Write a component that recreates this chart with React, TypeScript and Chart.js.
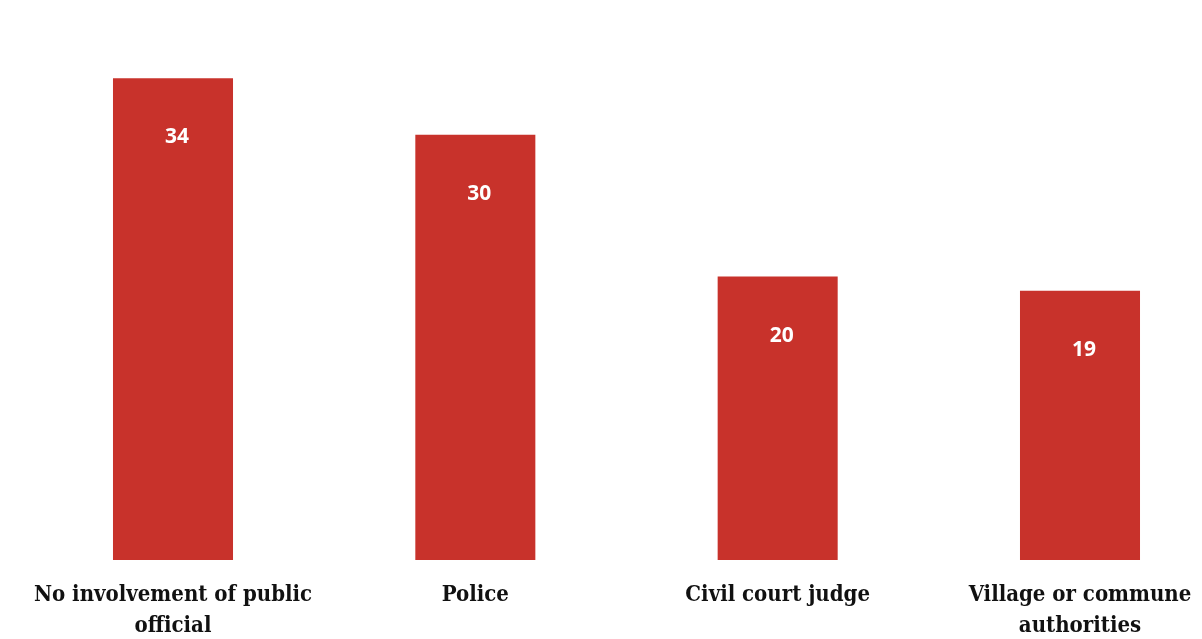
import React, { useEffect, useRef } from "react";
import { Chart, registerables } from "chart.js";

Chart.register(...registerables);

const categories: string[][] = [
  ["No involvement of public", "official"],
  ["Police"],
  ["Civil court judge"],
  ["Village or commune", "authorities"],
];
const values: number[] = [34, 30, 20, 19];
const yMin = 0;
const yMax = 35;

const BAR_COLOR = "#c8322b";

const valueLabelPlugin = {
  id: "valueLabels",
  afterDatasetsDraw(chart: any) {
    const ctx = chart.ctx;
    const meta = chart.getDatasetMeta(0);
    ctx.save();
    ctx.fillStyle = "#ffffff";
    ctx.font = "bold 21px 'Noto Sans'";
    ctx.textAlign = "center";
    ctx.textBaseline = "middle";
    meta.data.forEach((el: any, i: number) => {
      ctx.fillText(String(values[i]), el.x + 4, el.y + 59);
    });
    ctx.restore();
  },
};

export default function App() {
  const ref = useRef<HTMLCanvasElement | null>(null);
  useEffect(() => {
    document.body.style.margin = "0";
    document.body.style.background = "#ffffff";
    const canvas = ref.current!;
    const chart = new Chart(canvas, {
      type: "bar",
      data: {
        labels: categories,
        datasets: [
          {
            data: values,
            backgroundColor: BAR_COLOR,
            borderWidth: 0,
            barPercentage: 1,
            categoryPercentage: 0.397,
            clip: false as any,
          },
        ],
      },
      options: {
        animation: false,
        responsive: false,
        maintainAspectRatio: false,
        layout: { padding: { top: 64, left: 173, right: 122, bottom: 0 } },
        plugins: {
          legend: { display: false },
          tooltip: { enabled: false },
        },
        scales: {
          x: {
            offset: false,
            grid: { display: false, drawTicks: false },
            border: { display: false },
            ticks: {
              autoSkip: false,
              maxRotation: 0,
              minRotation: 0,
              padding: 20,
              color: "#111111",
              font: { family: "'DejaVu Serif Condensed', 'DejaVu Serif'", weight: "bold", size: 22, lineHeight: 1.4 },
            },
            afterFit(scale: any) {
              scale.height = 79;
              scale.paddingLeft = 0;
              scale.paddingRight = 0;
            },
          },
          y: {
            display: false,
            min: yMin,
            max: yMax,
          },
        },
      },
      plugins: [valueLabelPlugin],
    });
    return () => chart.destroy();
  }, []);
  return (
    <div style={{ width: 1202, height: 639, position: "relative" }}>
      <canvas ref={ref} width={1202} height={639} style={{ display: "block" }} />
    </div>
  );
}
